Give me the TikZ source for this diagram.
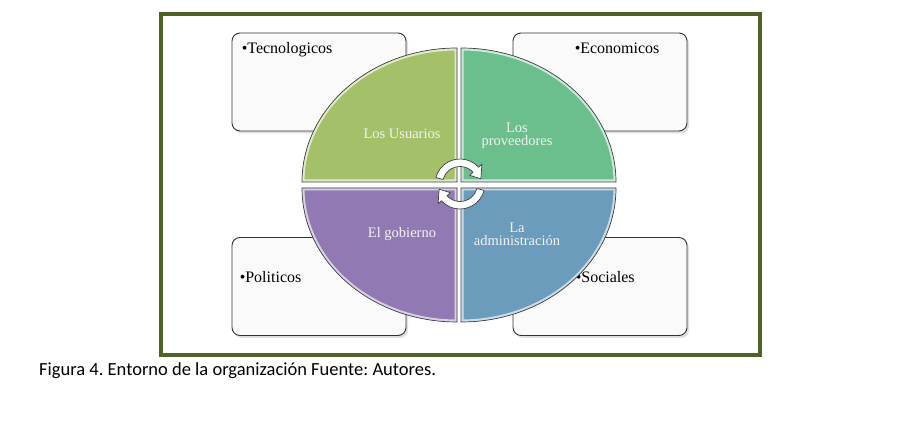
\documentclass[tikz,border=0pt]{standalone}
\usepackage{fontspec}
\setmainfont{Liberation Serif}
\newfontfamily\captionfont{Carlito}
\usetikzlibrary{shadows}
\frenchspacing
\definecolor{framegreen}{RGB}{79,98,40}
\definecolor{usuarios}{HTML}{A4C16A}
\definecolor{proveedores}{HTML}{6ABF8C}
\definecolor{gobierno}{HTML}{917AB4}
\definecolor{administracion}{HTML}{6C9CBC}
\tikzset{
    entorno diagram/.style = {x=1pt, y=1pt},
    factorbox/.style       = {draw=black!80, line width=0.9pt, fill=black!2,
                              rounded corners=8pt, minimum width=174pt,
                              minimum height=98pt,
                              drop shadow={opacity=0.25, shadow xshift=2pt,
                                           shadow yshift=-2.5pt}},
    factor/.style          = {font=\fontsize{16}{19}\selectfont, inner sep=0pt},
    actor/.style           = {font=\fontsize{14.5}{13}\selectfont,
                              text=white!95!black, align=center, inner sep=0pt},
    quadrant edge/.style   = {draw=black!75, line width=0.7pt},
    cycle arrow/.style     = {draw=black!75, fill=white, line width=0.7pt,
                              line join=round},
    caption/.style         = {font=\captionfont\fontsize{18.5}{22}\selectfont,
                              inner sep=0pt}
}

\begin{document}
\begin{tikzpicture}[entorno diagram]
\useasboundingbox (0,0) rectangle (915,428);
\draw[framegreen, line width=4pt] (161,414) rectangle (760,73);

% Environment factors behind the circle.
\foreach \name/\x/\y/\dx/\dy/\factor in {
    tec/319/346/10/-21/Tecnologicos, eco/600/346/62/-21/Economicos,
    pol/319/141.5/8/-45/Politicos, soc/600/141.5/63/-45/Sociales} {
    \node[factorbox] (\name-box) at (\x,\y) {};
    \node[factor, anchor=base west] (\name) at ([shift={(\dx,\dy)}]\name-box.north west) {•\factor};
}

% Four bevelled quadrants of the circle.
\foreach \name/\ang/\dx/\dy/\tx/\ty/\actor in {
    usuarios/90/-2/3/402/294/Los Usuarios,
    proveedores/0/2/3/517/292/Los\\proveedores,
    gobierno/180/-2/-3/402/194/El gobierno,
    administracion/270/2/-3/517/194/La\\administración} {
    \begin{scope}[shift={(459+\dx,243+\dy)}]
        \path[save path=\quadpath] (0,0) -- (\ang:155 and 134)
            arc[start angle=\ang, delta angle=90, x radius=155, y radius=134] -- cycle;
        \fill[\name, use path=\quadpath];
        \begin{scope}
            \clip[use path=\quadpath];
            \draw[\name!35!white, line width=5pt, use path=\quadpath];
        \end{scope}
        \draw[quadrant edge, use path=\quadpath];
    \end{scope}
    \node[actor] (\name) at (\tx,\ty) {\actor};
}

% Cycle arrows in the middle.
\coordinate (cycle) at (460,244);
\foreach \turn in {0,180} {
    \begin{scope}[shift={(cycle)}, rotate=\turn]
        \draw[cycle arrow] (165:25) arc[start angle=165, end angle=42, radius=25]
            -- (42:29.5) -- (14:21.5) -- (42:13) -- (42:17.5)
            arc[start angle=42, end angle=165, radius=17.5] -- cycle;
    \end{scope}
}

\node[caption, anchor=base west] (caption) at (39,52) {Figura 4. Entorno de la organización Fuente: Autores.};

\end{tikzpicture}
\end{document}
